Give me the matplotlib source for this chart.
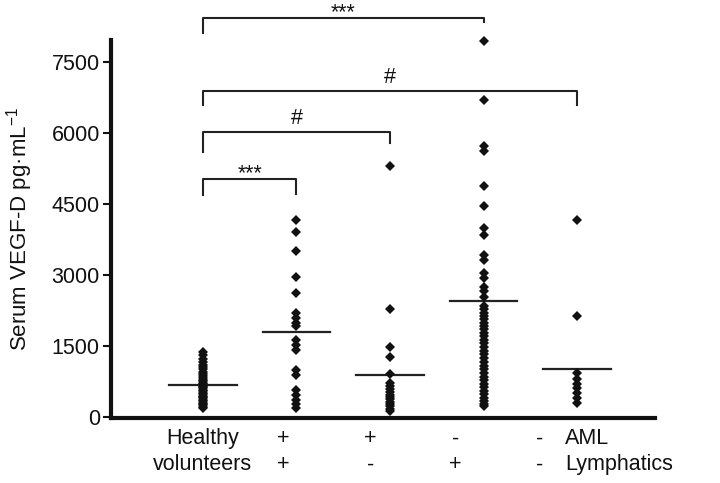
import numpy as np
import matplotlib
matplotlib.use("Agg")
import matplotlib.pyplot as plt

plt.rcParams['font.family'] = ['Liberation Sans', 'DejaVu Sans']

# group values (pg/mL)
healthy = [1370, 1300, 1230, 1160, 1100, 1050, 1000, 950, 900, 860, 820, 780,
           750, 720, 690, 660, 630, 600, 570, 540, 510, 480, 450, 420, 390,
           360, 330, 300, 270, 240, 210, 180]
aml_pos_lym_pos = [4160, 3910, 3510, 2960, 2610, 2190, 2080, 1980, 1910, 1630,
                   1520, 1420, 990, 890, 570, 470, 360, 260, 190]
aml_pos_lym_neg = [5290, 2280, 1470, 1260, 910, 720, 650, 590, 530, 470, 420,
                   370, 320, 270, 220, 170, 120]
aml_neg_lym_pos = [7950, 6700, 5730, 5610, 4880, 4460, 3990, 3850, 3420, 3320,
                   3040, 2930, 2750, 2650, 2540, 2350, 2280, 2200, 2130, 2060,
                   1990, 1920, 1850, 1780, 1700, 1620, 1550, 1480, 1400, 1330,
                   1250, 1150, 1080, 1000, 930, 850, 780, 700, 620, 550, 480,
                   400, 330, 270, 220]
aml_neg_lym_neg = [4160, 2120, 920, 800, 700, 600, 500, 400, 290]

groups = [healthy, aml_pos_lym_pos, aml_pos_lym_neg, aml_neg_lym_pos, aml_neg_lym_neg]
group_means = [680, 1800, 890, 2440, 1010]

row_aml = ["Healthy", "+", "+", "-", "-", "AML"]
row_lym = ["volunteers", "+", "-", "+", "-", "Lymphatics"]

# significance brackets: (group a, group b, label, height)
brackets = [(1, 2, "***", 5030), (1, 3, "#", 6020), (1, 5, "#", 6890), (1, 4, "***", 8430)]
# how far each bracket's legs drop (left, right)
legs = [(340, 320), (420, 230), (300, 300), (320, 85)]

fig = plt.figure(figsize=(7.2, 4.83), dpi=100)
ax = fig.add_axes([0.154, 0.1346, 0.756, 0.783])

fs = 15.5
ink = "#111111"

for i, vals in enumerate(groups):
    x = i + 1
    ax.plot([x] * len(vals), vals, linestyle="none", marker="D", markersize=5.6,
            color=ink, markeredgewidth=0, clip_on=False, zorder=3)
    ax.plot([x - 0.36, x + 0.36], [group_means[i]] * 2, color="#222222", lw=1.6, zorder=2)

for (a, b, label, h), (dl, dr) in zip(brackets, legs):
    ax.plot([a, a, b, b], [h - dl, h, h, h - dr], color="#222222", lw=1.5,
            clip_on=False)
    off = 0 if label == "***" else 170
    ax.text((a + b) / 2, h + off, label, ha="center", va="baseline", fontsize=fs,
            color=ink, clip_on=False)

ax.set_xlim(0.016, 5.834)
ax.set_ylim(-25, 7965)
ax.set_yticks([0, 1500, 3000, 4500, 6000, 7500])
ax.tick_params(axis="y", labelsize=fs, length=6, width=1.5, pad=2, colors=ink)

# x labels are spaced a bit tighter than the dot columns; last one names the rows
label_x = [1, 1.86, 2.79, 3.70, 4.60, 4.87]
ax.set_xticks(label_x)
ax.set_xticklabels([f"{a}\n{l}" for a, l in zip(row_aml, row_lym)], fontsize=fs,
                   color=ink, linespacing=1.3)
ax.get_xticklabels()[-1].set_horizontalalignment("left")
ax.tick_params(axis="x", length=0, pad=7.5)

ax.set_ylabel("Serum VEGF-D pg\u00b7mL$^{\\mathregular{-1}}$", fontsize=fs + 0.5,
              color=ink, labelpad=12)

for side in ["top", "right"]:
    ax.spines[side].set_visible(False)
ax.spines["left"].set_linewidth(3)
ax.spines["bottom"].set_linewidth(3)
ax.spines["left"].set_color(ink)
ax.spines["bottom"].set_color(ink)

fig.savefig("out.png", dpi=100)
